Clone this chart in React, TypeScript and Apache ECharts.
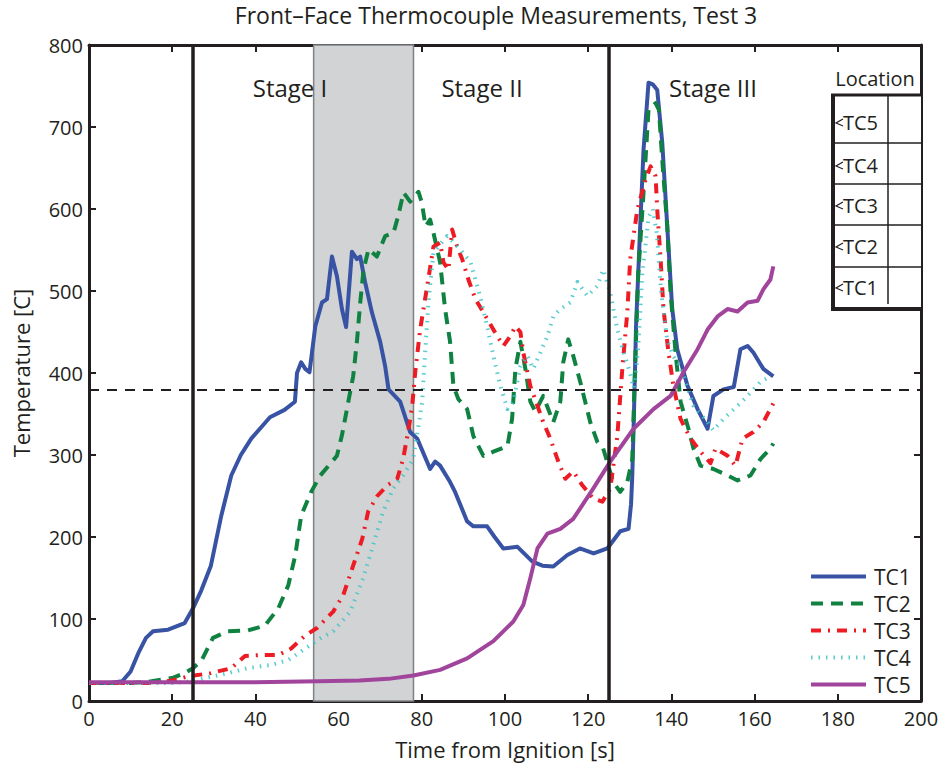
import React, { useEffect, useRef } from "react";
import * as echarts from "echarts";

const FONT = "'Open Sans', sans-serif";

const titleText = "Front\u2013Face Thermocouple Measurements, Test 3";
const xAxisName = "Time from Ignition [s]";
const yAxisName = "Temperature [C]";
const seriesNames = ["TC1", "TC2", "TC3", "TC4", "TC5"];
const stageLabels = ["Stage I", "Stage II", "Stage III"];
const stageBoundaries = [25, 125];
const shadedRange = [54, 78];
const thresholdTemp = 380;
const locationRows = ["TC5", "TC4", "TC3", "TC2", "TC1"];

const tc1Time = [0, 5, 8, 10, 12, 13.7, 15.4, 19, 23, 25, 27, 29.3, 31.8, 34.2, 36.5, 39, 43.5, 47, 49.5, 50, 51, 52, 53, 54.4, 56, 57.2, 58.4, 59.6, 60.8, 61.8, 63.2, 64.4, 65.2, 66.4, 68, 70, 71.2, 72, 74.8, 77.2, 78.9, 82, 83.2, 84.4, 86.8, 88, 90.9, 92.4, 95.7, 97.5, 99.6, 103, 106.6, 109, 111.6, 115, 118, 121.3, 124.6, 127.7, 129.7, 130.3, 130.6, 131, 131.5, 132.5, 133.3, 134.5, 135.5, 136.6, 137.8, 139, 140.2, 141.4, 143.9, 146.3, 148.7, 150.1, 152.5, 155, 156.6, 158.3, 159.7, 162.1, 164.5];
const tc1Temp = [22, 22, 24, 36, 60, 77, 85, 87, 95, 113, 135, 165, 226, 275, 300, 320, 346, 355, 365, 400, 413, 405, 401, 457, 486, 490, 542, 518, 478, 456, 548, 539, 542, 510, 474, 438, 408, 380, 365, 328, 320, 283, 292, 287, 267, 255, 219, 213, 213, 200, 186, 188, 170, 165, 164, 178, 186, 180, 186, 207, 210, 240, 275, 350, 457, 579, 672, 754, 752, 745, 681, 579, 478, 429, 384, 356, 332, 372, 380, 383, 429, 433, 425, 405, 396];

const tc2Time = [0, 10, 15, 20, 23, 25, 27, 29.8, 33.4, 38.2, 42.3, 45.5, 47.9, 49.6, 51, 53.4, 55.6, 59.6, 60.8, 62, 63.5, 64.4, 65.2, 66, 67.2, 69.2, 71.2, 73.2, 74.3, 75.6, 77.2, 79.2, 80, 80.9, 82, 82.8, 84.4, 85.6, 86.8, 87.6, 88.8, 90.9, 92.4, 94.8, 97.2, 100.6, 101.7, 102.5, 103.7, 104.9, 106.1, 107.3, 109.2, 111.6, 113.3, 114, 115.2, 116.4, 118.1, 120.5, 122.2, 123.6, 126, 127.7, 129.4, 130.6, 131.2, 132, 133.3, 134.5, 136.2, 137, 137.8, 139, 139.8, 141, 142.2, 144.1, 145.3, 147, 150.1, 153.5, 155.9, 159, 161.4, 163.8, 164.5];
const tc2Temp = [22, 22, 24, 28, 34, 40, 49, 77, 85, 86, 92, 113, 141, 178, 226, 255, 275, 299, 324, 356, 396, 438, 486, 526, 551, 542, 567, 571, 591, 620, 609, 621, 608, 579, 587, 571, 535, 478, 438, 384, 368, 356, 323, 299, 304, 311, 344, 405, 438, 405, 365, 353, 372, 340, 365, 413, 441, 421, 389, 340, 316, 308, 267, 255, 267, 295, 396, 518, 620, 721, 729, 721, 660, 579, 498, 425, 365, 332, 308, 287, 283, 275, 269, 275, 295, 308, 314];

const tc3Time = [0, 15, 20, 23.8, 29.3, 34.2, 37.5, 41.4, 45.5, 48.6, 52, 54.8, 58.7, 61.1, 63.5, 65.7, 67.1, 69.3, 71.7, 74.1, 75.5, 76.7, 77.7, 78.4, 79.6, 81.3, 82.8, 84.4, 85.2, 86.4, 87.3, 88.5, 89.7, 91.2, 92.9, 94.8, 97.2, 99.6, 101.3, 102.5, 103.7, 104.4, 106.1, 107.8, 109.2, 110.9, 112.6, 114.5, 116.4, 118.6, 121.2, 123.4, 125.3, 127, 128.2, 129.4, 130.1, 131.8, 133.8, 135, 136.2, 136.6, 137.4, 138.1, 139.3, 140.5, 142.2, 144.6, 147, 149.4, 150.6, 153.5, 155.4, 157.1, 159.7, 162.1, 164.5];
const tc3Temp = [22, 22, 25, 30, 34, 40, 55, 56, 56, 64, 80, 89, 109, 129, 165, 198, 231, 250, 263, 271, 295, 328, 360, 400, 453, 506, 554, 559, 535, 526, 575, 554, 539, 514, 490, 474, 453, 433, 445, 457, 450, 425, 384, 360, 340, 320, 295, 271, 280, 263, 247, 243, 259, 323, 405, 474, 539, 599, 636, 652, 640, 599, 539, 478, 425, 384, 344, 320, 304, 290, 308, 299, 287, 320, 328, 340, 363];

const tc4Time = [0, 20, 25, 28, 33.4, 38.2, 43.8, 47.9, 52, 55.8, 58.7, 62.8, 65.9, 68.3, 70.7, 73.1, 75.5, 77.9, 79.1, 80.1, 80.8, 81.6, 82.8, 86.1, 89.2, 91.7, 94, 95.7, 97.2, 98.9, 100.6, 102, 103.7, 105.4, 106.8, 108.5, 110.2, 111.6, 113.3, 115.7, 117.4, 119.8, 122.2, 123.6, 125.3, 127, 128.5, 130.1, 131, 132, 133, 134.5, 135.5, 136.5, 137.5, 139, 140.5, 142.2, 145.3, 148.7, 150.1, 152.5, 155.9, 158.3, 161.4, 163.8];
const tc4Temp = [22, 22, 24, 28, 34, 40, 44, 50, 64, 77, 85, 109, 150, 190, 231, 259, 275, 295, 332, 365, 425, 486, 547, 567, 551, 535, 494, 457, 421, 384, 356, 365, 408, 421, 405, 425, 445, 469, 478, 486, 511, 494, 506, 526, 498, 453, 425, 400, 377, 430, 520, 590, 600, 570, 500, 440, 420, 408, 360, 340, 330, 344, 360, 372, 389, 396];

const tc5Time = [0, 20, 40, 55, 65, 72, 78, 84.4, 90.9, 97.2, 102, 104.4, 106.1, 107.8, 110.2, 113.3, 116.4, 121.2, 125.3, 130.9, 135.7, 139.8, 142.9, 146.3, 148.7, 151.1, 153.5, 155.9, 158.3, 160.7, 162.1, 163.8, 164.5];
const tc5Temp = [23, 23, 23, 24, 25, 27, 31, 38, 52, 73, 97, 117, 150, 186, 204, 210, 222, 259, 292, 332, 356, 372, 401, 429, 453, 469, 478, 475, 486, 488, 502, 514, 530];

const colors = ["#3953a4", "#0f8241", "#ed1c24", "#3cc3c8", "#a1449b"];

function zip(t: number[], v: number[]) {
  return t.map((x, i) => [x, v[i]]);
}

export default function App() {
  const ref = useRef<HTMLDivElement>(null);

  useEffect(() => {
    if (!ref.current) return;
    const chart = echarts.init(ref.current, undefined, { renderer: "svg" });

    const axisLineStyle = { color: "#231f20", width: 3 };
    const tickStyle = { inside: true, length: 7, lineStyle: { color: "#231f20", width: 2 } };
    const labelStyle = { color: "#231f20", fontFamily: FONT, fontSize: 20 };

    const lineDefs = [
      { type: "solid", width: 4 },
      { type: [12, 8], width: 4 },
      { type: [10, 7, 2, 7], width: 4 },
      { type: [1.5, 6], width: 4 },
      { type: "solid", width: 4 },
    ];
    const datasets = [
      zip(tc1Time, tc1Temp),
      zip(tc2Time, tc2Temp),
      zip(tc3Time, tc3Temp),
      zip(tc4Time, tc4Temp),
      zip(tc5Time, tc5Temp),
    ];

    const mainSeries = seriesNames.map((name, i) => ({
      name,
      type: "line",
      data: datasets[i],
      symbol: "none",
      showSymbol: false,
      z: 3,
      lineStyle: {
        color: colors[i],
        width: lineDefs[i].width,
        type: lineDefs[i].type as any,
        cap: "butt",
        join: "round",
        opacity: i === 3 ? 0.85 : 1,
      },
      itemStyle: { color: colors[i] },
    }));

    const refSeries = {
      name: "refs",
      type: "line",
      data: [],
      z: 1,
      symbol: "none",
      markArea: {
        silent: true,
        itemStyle: { color: "#d1d3d4", borderColor: "#808285", borderWidth: 1.5 },
        data: [[{ xAxis: shadedRange[0] }, { xAxis: shadedRange[1] }]],
      },
      markLine: {
        silent: true,
        symbol: "none",
        label: { show: false },
        data: [
          ...stageBoundaries.map((b) => ({
            xAxis: b,
            lineStyle: { color: "#231f20", width: 3.5, type: "solid" },
          })),
          {
            yAxis: thresholdTemp,
            lineStyle: { color: "#231f20", width: 2, type: [10, 8] },
          },
        ],
      },
    };

    const tableLeft = 833;
    const tableRight = 921;
    const tableTop = 95;
    const tableBottom = 309;
    const rowLines = [143, 184, 225, 267];
    const rowCenters = [122, 165, 205, 246, 287];

    const graphics: any[] = [
      {
        type: "text",
        x: 496,
        y: 15,
        style: {
          text: titleText,
          font: `23px ${FONT}`,
          fill: "#231f20",
          align: "center",
          verticalAlign: "middle",
        },
      },
      ...stageLabels.map((s, i) => ({
        type: "text",
        x: [290, 482, 713][i],
        y: 87,
        z: 10,
        style: {
          text: s,
          font: `24px ${FONT}`,
          fill: "#231f20",
          align: "center",
          verticalAlign: "middle",
        },
      })),
      {
        type: "text",
        x: 875,
        y: 78,
        z: 10,
        style: {
          text: "Location",
          font: `20px ${FONT}`,
          fill: "#231f20",
          align: "center",
          verticalAlign: "middle",
        },
      },
      {
        type: "rect",
        z: 9,
        shape: { x: tableLeft, y: tableTop, width: tableRight - tableLeft, height: tableBottom - tableTop },
        style: { fill: "#ffffff", stroke: null },
      },
      {
        type: "line",
        z: 10,
        shape: { x1: tableLeft, y1: tableTop - 1, x2: tableLeft, y2: tableBottom + 2 },
        style: { stroke: "#231f20", lineWidth: 4 },
      },
      {
        type: "line",
        z: 10,
        shape: { x1: tableLeft - 2, y1: tableTop, x2: tableRight, y2: tableTop },
        style: { stroke: "#231f20", lineWidth: 3 },
      },
      {
        type: "line",
        z: 10,
        shape: { x1: tableLeft - 2, y1: tableBottom, x2: tableRight, y2: tableBottom },
        style: { stroke: "#231f20", lineWidth: 4 },
      },
      ...rowLines.map((y) => ({
        type: "line",
        z: 10,
        shape: { x1: tableLeft, y1: y, x2: tableRight, y2: y },
        style: { stroke: "#231f20", lineWidth: 1.5 },
      })),
      {
        type: "line",
        z: 10,
        shape: { x1: 888, y1: tableTop, x2: 888, y2: tableBottom - 5 },
        style: { stroke: "#231f20", lineWidth: 1.5 },
      },
      ...locationRows.map((r, i) => ({
        type: "group",
        z: 10,
        children: [
          {
            type: "polyline",
            z: 10,
            shape: {
              points: [
                [843, rowCenters[i] - 3],
                [836, rowCenters[i] + 1],
                [843, rowCenters[i] + 4],
              ],
            },
            style: { stroke: "#231f20", lineWidth: 1.2, fill: null },
          },
          {
            type: "text",
            z: 10,
            x: 843,
            y: rowCenters[i],
            style: {
              text: r,
              font: `20px ${FONT}`,
              fill: "#231f20",
              align: "left",
              verticalAlign: "middle",
            },
          },
        ],
      })),
    ];

    chart.setOption({
      animation: false,
      backgroundColor: "#ffffff",
      grid: { left: 89, right: 23, top: 45, bottom: 62, containLabel: false },
      legend: {
        data: seriesNames,
        orient: "vertical",
        left: 804,
        top: 561,
        itemWidth: 55,
        itemHeight: 20,
        itemGap: 6,
        itemStyle: { opacity: 0 },
        lineStyle: { width: 4 },
        textStyle: { color: "#231f20", fontFamily: FONT, fontSize: 21, lineHeight: 20, padding: [0, 0, 0, 3] },
        selectedMode: false,
      },
      xAxis: [
        {
          type: "value",
          position: "bottom",
          min: 0,
          max: 200,
          interval: 20,
          name: xAxisName,
          nameLocation: "middle",
          nameGap: 37,
          nameTextStyle: { color: "#231f20", fontFamily: FONT, fontSize: 22, lineHeight: 22 },
          axisLine: { show: true, onZero: false, lineStyle: axisLineStyle },
          axisTick: tickStyle,
          axisLabel: { ...labelStyle, margin: 6, lineHeight: 22 },
          splitLine: { show: false },
        },
        {
          type: "value",
          position: "top",
          min: 0,
          max: 200,
          interval: 20,
          axisLine: { show: true, onZero: false, lineStyle: axisLineStyle },
          axisTick: tickStyle,
          axisLabel: { show: false },
          splitLine: { show: false },
        },
      ],
      yAxis: [
        {
          type: "value",
          position: "left",
          min: 0,
          max: 800,
          interval: 100,
          name: yAxisName,
          nameLocation: "middle",
          nameGap: 57,
          nameRotate: 90,
          nameTextStyle: { color: "#231f20", fontFamily: FONT, fontSize: 22 },
          axisLine: { show: true, onZero: false, lineStyle: axisLineStyle },
          axisTick: tickStyle,
          axisLabel: { ...labelStyle, margin: 6 },
          splitLine: { show: false },
        },
        {
          type: "value",
          position: "right",
          min: 0,
          max: 800,
          interval: 100,
          axisLine: { show: true, onZero: false, lineStyle: axisLineStyle },
          axisTick: tickStyle,
          axisLabel: { show: false },
          splitLine: { show: false },
        },
      ],
      series: [refSeries, ...mainSeries],
      graphic: graphics,
    } as any);

    return () => chart.dispose();
  }, []);

  return (
    <div
      ref={ref}
      style={{ position: "fixed", left: 0, top: 0, width: 944, height: 765, background: "#fff" }}
    />
  );
}
